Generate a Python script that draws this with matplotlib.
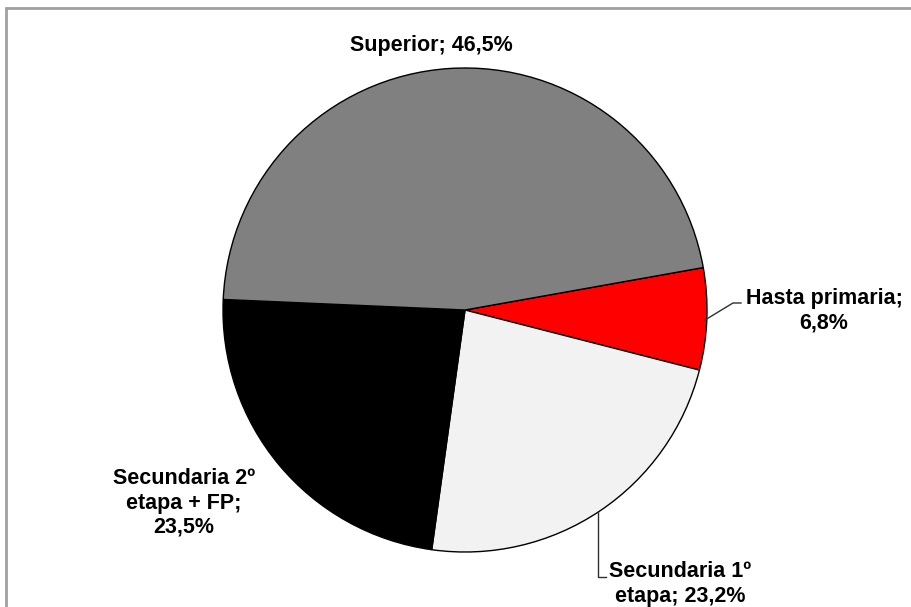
import numpy as np
from matplotlib import pyplot as plt
from matplotlib.patches import Rectangle

# datos (porcentaje por nivel de estudios)
labels = ['Hasta primaria;\n6,8%', 'Secundaria 1º\netapa; 23,2%',
          'Secundaria 2º\netapa + FP;\n23,5%', 'Superior; 46,5%']
values = [6.8, 23.2, 23.5, 46.5]
colors = ['#FF0000', '#F2F2F2', '#000000', '#808080']

W, H = 911, 607

fig = plt.figure(figsize=(W / 100, H / 100), dpi=100)
ax = fig.add_axes([0, 0, 1, 1])

def iy(y):
    # pixel de imagen -> coordenada con y hacia arriba
    return H - y

cx, cy, r = 465, iy(310), 242
ax.pie(values, colors=colors, startangle=10.1, counterclock=False,
       center=(cx, cy), radius=r, frame=True,
       wedgeprops=dict(edgecolor='black', linewidth=1.0))
ax.set_xlim(0, W)
ax.set_ylim(0, H)
ax.set_aspect('equal')
ax.axis('off')

font = dict(family='Liberation Sans', fontsize=15.5, fontweight='bold',
            ha='center', va='center', linespacing=1.2)
ax.text(431, iy(46), labels[3], **font)
ax.text(824, iy(311), labels[0], **font)
ax.text(184, iy(503), labels[2], **font)
ax.text(680, iy(584), labels[1], **font)

# lineas guia
ax.plot([705, 733, 741], [iy(320), iy(303), iy(303)], color='#303030', lw=1)
ax.plot([598, 598, 606], [iy(512), iy(577), iy(577)], color='#303030', lw=1)

# marco
ax.add_patch(Rectangle((6, iy(620)), 920, 612, fill=False,
                       edgecolor='#A0A0A0', lw=2, clip_on=False))

fig.savefig('out.png', dpi=100)
